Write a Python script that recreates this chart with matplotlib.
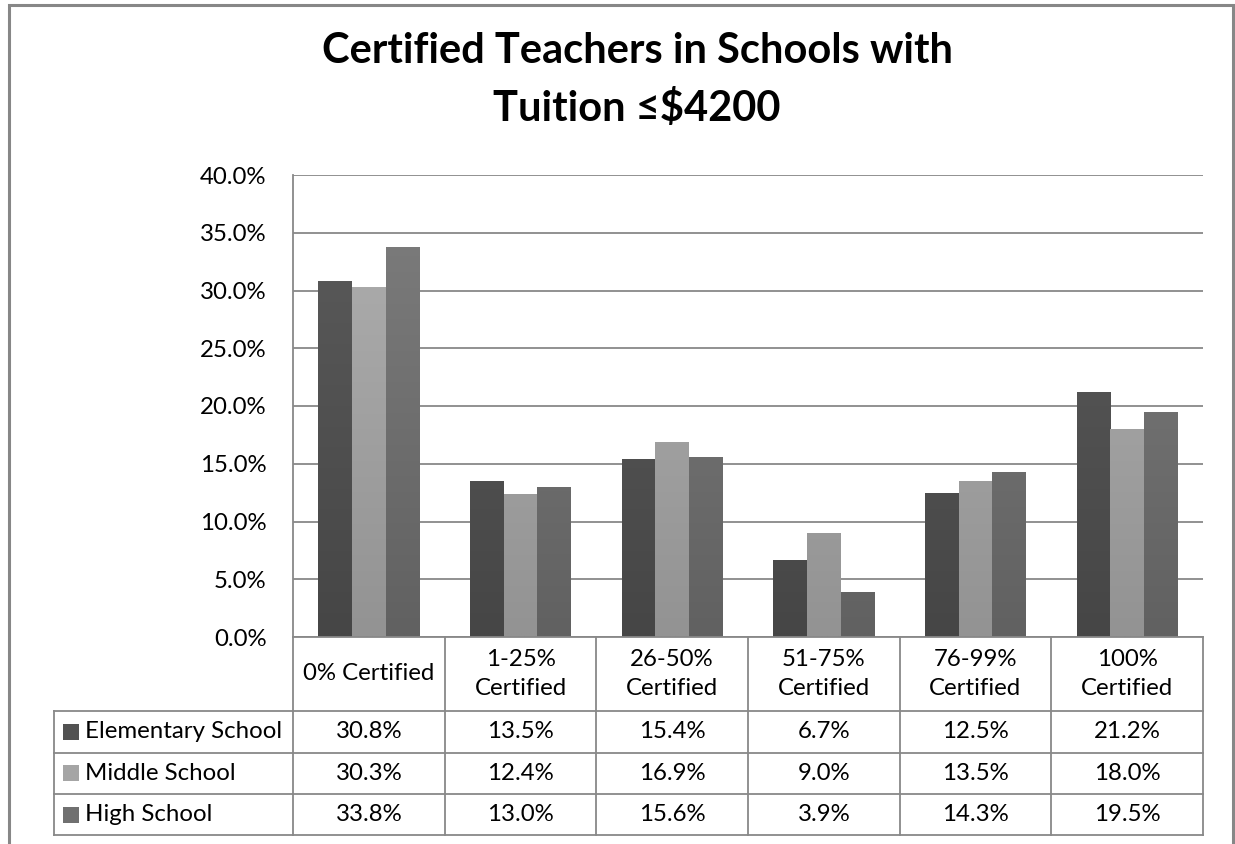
import matplotlib
matplotlib.use('Agg')
import matplotlib.pyplot as plt
import numpy as np
from matplotlib.transforms import blended_transform_factory
from matplotlib.patches import Rectangle
from matplotlib.lines import Line2D

# ---------------- data ----------------
categories = ['0% Certified', '1-25%\nCertified', '26-50%\nCertified',
              '51-75%\nCertified', '76-99%\nCertified', '100%\nCertified']
series_names = ['Elementary School', 'Middle School', 'High School']
elementary = [30.8, 13.5, 15.4, 6.7, 12.5, 21.2]
middle = [30.3, 12.4, 16.9, 9.0, 13.5, 18.0]
high = [33.8, 13.0, 15.6, 3.9, 14.3, 19.5]
ytick_values = [0, 5, 10, 15, 20, 25, 30, 35, 40]
title_text = 'Certified Teachers in Schools with\nTuition \u2264$4200'

series_values = [elementary, middle, high]
top_colors = ['#5c5c5c', '#b0b0b0', '#7e7e7e']
bottom_colors = ['#464646', '#939393', '#616161']
swatch_colors = ['#525252', '#a5a5a5', '#707070']

FONT = ['Lato', 'DejaVu Sans']
plt.rcParams['font.family'] = FONT
FS = 17.3

W, H = 1235, 844
fig = plt.figure(figsize=(W / 100, H / 100), dpi=100)


def fx(px):
    return px / W


def fy(py):
    return 1 - py / H


ax_left, ax_right, ax_top, ax_bottom = 293, 1203, 175, 637
ax = fig.add_axes([fx(ax_left), fy(ax_bottom), fx(ax_right) - fx(ax_left),
                   fy(ax_top) - fy(ax_bottom)])

n = len(categories)
x = np.arange(n)
bw = 0.222
gridc = '#888888'

for si, vals in enumerate(series_values):
    bars = ax.bar(x + (si - 1) * bw, vals, width=bw, facecolor='none',
                  edgecolor='none', zorder=3)
    c_top = np.array(matplotlib.colors.to_rgb(top_colors[si]))
    c_bot = np.array(matplotlib.colors.to_rgb(bottom_colors[si]))
    for b in bars:
        bx = b.get_x()
        bwid = b.get_width()
        t = np.linspace(0, 1, 64)[:, None]
        grad = (c_top[None, :] * (1 - t) + c_bot[None, :] * t)[:, None, :]
        im = ax.imshow(grad, extent=[bx, bx + bwid, 0, 40], origin='upper',
                       aspect='auto', zorder=3, interpolation='bilinear')
        im.set_clip_path(b)

ax.set_xlim(-0.5, n - 0.5)
ax.set_ylim(0, 40)
ax.set_yticks(ytick_values)
ax.set_yticklabels([f'{v:.1f}%' for v in ytick_values], fontsize=FS)
ax.tick_params(axis='y', length=0, pad=19)
ax.set_xticks([])
ax.grid(axis='y', color=gridc, linewidth=1.3, zorder=0)
ax.set_axisbelow(True)
for s in ['top', 'right', 'bottom']:
    ax.spines[s].set_visible(False)
ax.spines['left'].set_color(gridc)
ax.spines['left'].set_linewidth(1.3)

# ---------------- data table ----------------
tr = blended_transform_factory(ax.transData, fig.transFigure)
row_lines = [637, 711, 752.7, 794, 835]
leg_left = 54
lw = 1.3

for i in range(n + 1):
    fig.add_artist(Line2D([i - 0.5, i - 0.5], [fy(637), fy(835)], transform=tr,
                          color=gridc, linewidth=lw))
for ry in row_lines:
    fig.add_artist(Line2D([-0.5, n - 0.5], [fy(ry), fy(ry)], transform=tr,
                          color=gridc, linewidth=lw))
for ry in row_lines[1:]:
    fig.add_artist(Line2D([fx(leg_left), fx(ax_left)], [fy(ry), fy(ry)],
                          transform=fig.transFigure, color=gridc, linewidth=lw))
fig.add_artist(Line2D([fx(leg_left), fx(leg_left)], [fy(711), fy(835)],
                      transform=fig.transFigure, color=gridc, linewidth=lw))

for i, c in enumerate(categories):
    fig.text(i, fy((637 + 711) / 2), c, transform=tr, ha='center', va='center',
             fontsize=FS, linespacing=1.45)

for si, (name, vals) in enumerate(zip(series_names, series_values)):
    yc = (row_lines[si + 1] + row_lines[si + 2]) / 2
    fig.add_artist(Rectangle((fx(63), fy(yc + 8)), fx(16), 16 / H,
                             transform=fig.transFigure,
                             facecolor=swatch_colors[si], edgecolor='none'))
    fig.text(fx(85), fy(yc), name, ha='left', va='center', fontsize=FS)
    for i, v in enumerate(vals):
        fig.text(i, fy(yc), f'{v:.1f}%', transform=tr, ha='center',
                 va='center', fontsize=FS)

# title
fig.text(fx(637), fy(80), title_text, ha='center', va='center',
         fontsize=30, fontweight='bold', linespacing=1.6)

# outer frame
fig.add_artist(Rectangle((fx(9), fy(900)), fx(1233) - fx(9), (900 - 5) / H,
                         transform=fig.transFigure, facecolor='none',
                         edgecolor='#878787', linewidth=2.2, clip_on=False))

fig.savefig('out.png', dpi=100)
